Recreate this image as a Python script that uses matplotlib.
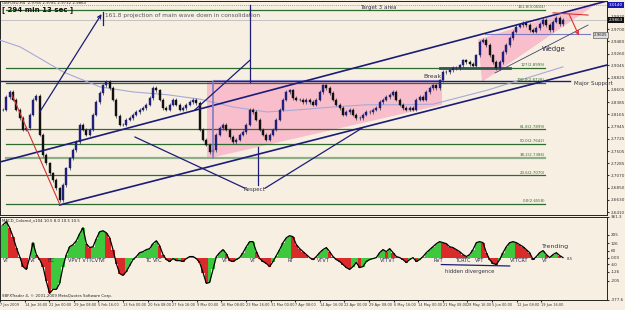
import matplotlib
matplotlib.use("Agg")
import matplotlib.pyplot as plt
import matplotlib.transforms as mtrans
from matplotlib.patches import Polygon
import numpy as np

# GBPUSD H4 closes (one value per drawn candle)
closes = [2.825, 2.848, 2.857, 2.843, 2.825, 2.810, 2.789, 2.792, 2.816, 2.843,
          2.850, 2.780, 2.744, 2.729, 2.711, 2.699, 2.684, 2.663, 2.690, 2.720,
          2.738, 2.753, 2.767, 2.798, 2.789, 2.780, 2.789, 2.816, 2.839, 2.855,
          2.869, 2.875, 2.864, 2.843, 2.814, 2.798, 2.798, 2.807, 2.810, 2.816,
          2.821, 2.825, 2.828, 2.834, 2.846, 2.864, 2.860, 2.843, 2.828, 2.825,
          2.834, 2.843, 2.834, 2.825, 2.828, 2.834, 2.839, 2.843, 2.837, 2.789,
          2.771, 2.762, 2.749, 2.753, 2.780, 2.792, 2.798, 2.789, 2.776, 2.767,
          2.771, 2.780, 2.785, 2.798, 2.825, 2.821, 2.807, 2.789, 2.780, 2.771,
          2.780, 2.789, 2.807, 2.825, 2.843, 2.857, 2.860, 2.846, 2.843, 2.843,
          2.839, 2.843, 2.839, 2.834, 2.843, 2.857, 2.869, 2.864, 2.855, 2.843,
          2.834, 2.828, 2.816, 2.821, 2.825, 2.816, 2.810, 2.810, 2.816, 2.821,
          2.821, 2.825, 2.828, 2.839, 2.843, 2.848, 2.852, 2.857, 2.843, 2.834,
          2.828, 2.825, 2.828, 2.825, 2.843, 2.848, 2.843, 2.857, 2.864, 2.869,
          2.864, 2.878, 2.893, 2.893, 2.896, 2.900, 2.900, 2.905, 2.914, 2.911,
          2.907, 2.904, 2.923, 2.947, 2.950, 2.941, 2.923, 2.911, 2.900, 2.911,
          2.929, 2.941, 2.954, 2.965, 2.974, 2.977, 2.981, 2.977, 2.968, 2.965,
          2.972, 2.979, 2.986, 2.977, 2.968, 2.983, 2.990, 2.979, 2.986]

# MACD_Colored histogram
macd = [292, 319, 266, 186, 89, 9, -80, -106, 0, 133,
        27, -18, -80, -212, -319, -283, -283, -230, -80, 27,
        97, 115, 150, 212, 266, 124, 89, 97, 168, 230,
        239, 221, 177, 71, -53, -142, -159, -124, -71, -18,
        9, 44, 53, 71, 80, 124, 150, 106, 27, -18,
        -35, -9, -27, -27, -35, -9, 9, 9, -9, -44,
        -133, -230, -221, -106, 9, 44, 71, 35, -27, -35,
        -18, 0, 44, 97, 142, 142, 53, -9, -35, -53,
        -80, -35, 18, 71, 133, 177, 195, 186, 115, 80,
        53, 27, 0, -18, 9, 44, 71, 89, 53, 9,
        -18, -35, -62, -89, -106, -80, -44, -89, -80, -35,
        -18, -9, 0, 44, 71, 53, 80, 44, 9, 0,
        -18, -44, -18, 0, -35, -18, 9, 44, 71, 97,
        124, 142, 133, 124, 97, 89, 71, 53, 27, 9,
        27, 71, 133, 142, 133, 44, -18, -53, -62, -18,
        44, 97, 133, 142, 133, 115, 97, 71, 44, -18,
        9, 44, 62, 27, 0, 27, 44, 18, 0]

# slow moving average (light line)
ma_bars = [-0.9, 5.1, 12.0, 18.0, 29.1, 39.0, 49.2, 59.1, 69.0, 79.2, 89.1, 99.0, 109.2, 119.1, 129.0, 145.2, 168.0]
ma_vals = [2.950, 2.938, 2.914, 2.893, 2.866, 2.857, 2.852, 2.844, 2.830, 2.821, 2.825, 2.830, 2.834, 2.834, 2.835, 2.860, 2.902]

fib_names = ["161.8", "127", "100.0", "61.8", "50.0", "38.2", "23.6", "0.0"]
fib_prices = [3.0043, 2.8999, 2.8728, 2.7899, 2.7642, 2.7386, 2.7070, 2.6558]

price_ticks = [2.9920, 2.9700, 2.9480, 2.9260, 2.9045, 2.8825, 2.8605, 2.8385, 2.8165,
               2.7945, 2.7725, 2.7505, 2.7285, 2.7070, 2.6850, 2.6630, 2.6410]
macd_ticks = [361.3, 205, 126, 60, 0, -60, -126, -205, -377.6]
macd_tick_labels = ["361.3", "205", "126", "60", "0.00", "-60", "-126", "-205", "-377.6"]

time_ticks = [-0.8, 6.5, 13.9, 21.2, 28.6, 36.0, 43.4, 50.8, 58.1, 65.5, 72.9, 80.3,
              87.7, 95.0, 102.4, 109.8, 117.2, 124.6, 131.9, 139.3, 146.7, 154.1, 161.5]
time_labels = ["7 Jan 2009", "14 Jan 16:00", "22 Jan 00:00", "29 Jan 08:00", "5 Feb 16:00",
               "13 Feb 00:00", "20 Feb 08:00", "27 Feb 16:00", "9 Mar 00:00", "16 Mar 08:00",
               "23 Mar 16:00", "31 Mar 00:00", "7 Apr 08:00", "14 Apr 16:00", "22 Apr 00:00",
               "29 Apr 08:00", "6 May 16:00", "14 May 00:00", "21 May 08:00", "28 May 16:00",
               "5 Jun 00:00", "12 Jun 08:00", "19 Jun 16:00"]

# signal tags along the MACD zero line
tag_bars = [0, 8, 13.5, 19.5, 29, 42.6, 45, 65.7, 74, 85.5, 94.2, 113, 129, 135.6, 141.6, 152, 161.7]
tag_text = ["VT", "VT", "BC", "VPVT VTTCVT", "VT", "TC", "VTC", "VT", "VT", "RT",
            "VTVT", "VTTVT", "RVT", "TCRTC", "VPT", "VTTCRT", "VT"]

bg = '#F7F0E2'
navy = '#1C1C78'
green = '#2E6B2E'
purple = '#7C7CC4'
pink = '#F8BECB'

fig = plt.figure(figsize=(6.25, 3.10), dpi=100)
fig.patch.set_facecolor(bg)
ax = fig.add_axes([0.0, 0.3065, 0.9712, 0.6903])
ax2 = fig.add_axes([0.0, 0.0323, 0.9712, 0.2677])
for a in (ax, ax2):
    a.set_facecolor(bg)
    a.set_xlim(-0.9, 181.2)
    for s in a.spines.values():
        s.set_color('#222222')
        s.set_linewidth(0.7)

ax.set_ylim(2.6360, 3.0203)

n = len(closes)
idx = np.arange(n)
c = np.array(closes)

# pink consolidation zone and wedge
ax.add_patch(Polygon([(61.2, 2.875), (131.7, 2.875), (131.7, 2.834), (61.2, 2.737)],
                     closed=True, fc=pink, ec='none', zorder=1))
ax.add_patch(Polygon([(142.5, 2.951), (143.7, 2.875), (179.0, 3.019)],
                     closed=True, fc=pink, ec='none', zorder=1))

# horizontal lines
ax.axhline(3.0131, color=purple, lw=0.6, ls=(0, (1, 1.5)), zorder=2)
ax.axhline(2.9863, color='#BBBBBB', lw=0.6, zorder=2)
for name, p in zip(fib_names, fib_prices):
    lc, lw = (('#8DAE88', 1.6) if name == "38.2" else (green, 0.9))
    ax.plot([0.9, 162.6], [p, p], color=lc, lw=lw, zorder=2)
    ax.text(162.6, p + 0.0012, f"{name}({p:.4f})", color=green, fontsize=2.8,
            ha='right', va='bottom', zorder=6)
ax.plot([-0.9, 170.0], [2.8775, 2.8775], color=navy, lw=1.0, zorder=3)
ax.plot([63.0, 131.7], [2.879, 2.879], color=purple, lw=0.8, zorder=3)
ax.plot([131.0, 152.0], [2.8999, 2.8999], color='#2C5A4A', lw=2.0, zorder=3)
ax.plot([144.6, 176.1], [2.961, 2.961], color=purple, lw=0.8, zorder=3)

# moving average
ax.plot(ma_bars, ma_vals, color='#A8A8D8', lw=0.8, zorder=3)

# candles: body from previous close to close
o = np.concatenate([[c[0]], c[:-1]])
up = c >= o
ax.vlines(idx, np.minimum(o, c) - 0.003, np.maximum(o, c) + 0.003, color='#333340',
          lw=0.5, zorder=4)
ax.bar(idx[up], (c - o)[up], bottom=o[up], width=0.55, color='#20207A',
       edgecolor='#20207A', linewidth=0.3, zorder=4)
ax.bar(idx[~up], (c - o)[~up], bottom=o[~up], width=0.55, color='#111111',
       edgecolor='#111111', linewidth=0.3, zorder=4)

# trend lines
ax.plot([-1, 181], [2.731, 3.020], color=navy, lw=1.2, zorder=5)
ax.plot([17, 181], [2.654, 2.905], color=navy, lw=1.2, zorder=5)
ax.plot([39.6, 72.6], [2.776, 2.684], color=navy, lw=0.9, zorder=5)
ax.plot([76.5, 76.5], [2.758, 2.690], color=navy, lw=0.9, zorder=5)
ax.plot([78.6, 107.7], [2.684, 2.792], color=navy, lw=0.9, zorder=5)
ax.plot([2.7, 17.1], [2.852, 2.654], color='#D03030', lw=0.8, zorder=5)
ax.plot([63.0, 63.0], [2.875, 2.738], color=purple, lw=1.2, zorder=5)
ax.plot([74.1, 74.1], [3.013, 2.875], color=navy, lw=0.9, zorder=5)
ax.plot([57.6, 74.1], [2.825, 2.914], color=navy, lw=0.9, zorder=5)
ax.plot([30.0, 30.0], [3.001, 2.977], color=navy, lw=0.9, zorder=5)
ax.annotate('', xy=(30.0, 3.001), xytext=(10.5, 2.816),
            arrowprops=dict(arrowstyle='->', color=navy, lw=0.9, mutation_scale=6), zorder=5)
ax.plot([147.6, 175.5], [2.891, 2.977], color='#404070', lw=0.6, zorder=5)
ax.plot([165.0, 175.5], [2.999, 2.995], color='#E03030', lw=0.8, zorder=5)
ax.annotate('', xy=(173.1, 2.954), xytext=(169.5, 3.001),
            arrowprops=dict(arrowstyle='->', color='#E03030', lw=0.8, mutation_scale=6), zorder=5)

# texts
tc = '#333344'
ax.text(30.6, 2.995, "161.8 projection of main wave down in consolidation", color='#555566',
        fontsize=4.2, va='center', ha='left', zorder=6)
ax.text(107.1, 3.008, "Target 3 area", color=tc, fontsize=4.0, va='center', zorder=6)
ax.text(126.0, 2.884, "Break", color=tc, fontsize=4.5, va='center', zorder=6)
ax.text(161.7, 2.934, "Wedge", color=tc, fontsize=5.0, va='center', zorder=6)
ax.text(171.3, 2.873, "Major Support", color=tc, fontsize=4.0, va='center', zorder=6)
ax.text(75.3, 2.681, "Respect", color=tc, fontsize=4.0, va='center', ha='center', zorder=6)
ax.text(0.004, 0.998, "GBPUSD,H4  2.9765 2.9781 2.9732 2.9863", transform=ax.transAxes,
        fontsize=2.8, va='top', color='#222222')
ax.text(0.004, 0.958, "[ 294 min 13 sec ]", transform=ax.transAxes,
        fontsize=5.0, fontweight='bold', va='center', color='#111111')

# price axis on the right
ax.yaxis.tick_right()
ax.set_yticks(price_ticks)
ax.set_yticklabels([f"{p:.4f}" for p in price_ticks])
ax.tick_params(axis='y', labelsize=3.0, length=1.5, pad=1, colors='#333333')
ax.set_xticks([])
yt = mtrans.blended_transform_factory(ax.transAxes, ax.transData)
ax.text(1.003, 3.0131, "3.0140", transform=yt, fontsize=3.0, color='white', va='center',
        bbox=dict(fc='#1818B0', ec='none', pad=0.6), clip_on=False)
ax.text(1.003, 2.9863, "2.9863", transform=yt, fontsize=3.0, color='white', va='center',
        bbox=dict(fc='#111111', ec='none', pad=0.6), clip_on=False)
ax.text(177.2, 2.959, "2.9605", fontsize=2.8, color='#222222', va='center',
        bbox=dict(fc='#DDDDDD', ec='#444444', lw=0.4, pad=0.5), zorder=6)

# MACD panel
m = np.array(macd)
rising = np.concatenate([[True], m[1:] >= m[:-1]])
cols = np.where(rising, '#3DC83D', '#DA2A2A')
ax2.set_ylim(-377.6, 361.3)
ax2.bar(idx, m, width=1.0, color=cols, linewidth=0, zorder=2)
ax2.plot(idx, m, color='black', lw=0.9, zorder=3)
for b, t in zip(tag_bars, tag_text):
    ax2.text(b, -28, t, fontsize=3.6, color='#222244', va='center', ha='left', zorder=4)
ax2.plot([131.5, 152.0], [-62, -75], color=navy, lw=0.9, zorder=4)
ax2.text(132.6, -124, "hidden divergence", fontsize=3.8, color=tc, va='center')
ax2.text(161.7, 97, "Trending", fontsize=4.5, color=tc, va='center')
ax2.text(169.0, -9, "8.5", fontsize=2.8, color=tc, va='center')
ax2.text(0.004, 0.985, "MACD_Colored_v104 10.5 8.0 10.5 10.5", transform=ax2.transAxes,
         fontsize=2.8, va='top', color='#222222')
ax2.text(0.004, 0.02, "SBFXTrader 4, \u00a9 2001-2009 MetaQuotes Software Corp.",
         transform=ax2.transAxes, fontsize=2.8, va='bottom', color='#222222')
ax2.yaxis.tick_right()
ax2.set_yticks(macd_ticks)
ax2.set_yticklabels(macd_tick_labels)
ax2.tick_params(axis='y', labelsize=3.0, length=1.5, pad=1, colors='#333333')
ax2.set_xticks(time_ticks)
ax2.set_xticklabels(time_labels, ha='left')
ax2.tick_params(axis='x', labelsize=2.5, length=1.5, pad=1, colors='#333333')

fig.savefig('out.png', dpi=100, facecolor=bg)
